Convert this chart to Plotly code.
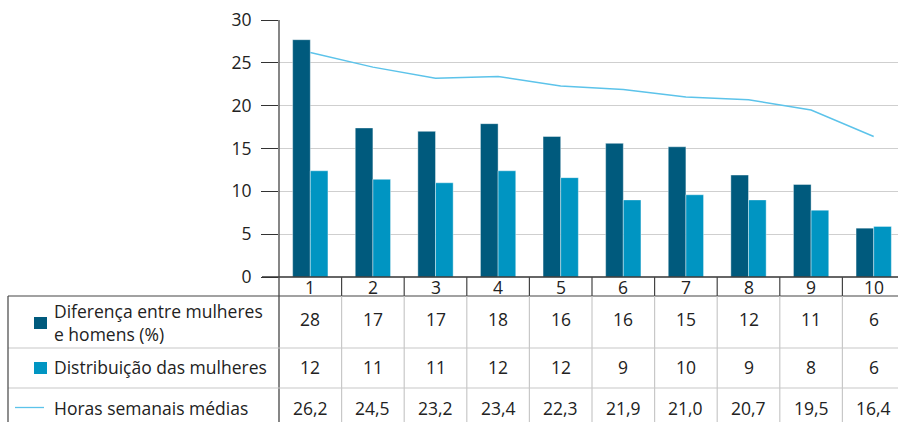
import plotly.graph_objects as go

# Data
categories = ["1", "2", "3", "4", "5", "6", "7", "8", "9", "10"]
diferenca = [27.7, 17.4, 17.0, 17.9, 16.4, 15.6, 15.2, 11.9, 10.8, 5.7]
distribuicao = [12.4, 11.4, 11.0, 12.4, 11.6, 9.0, 9.6, 9.0, 7.8, 5.9]
horas = [26.2, 24.5, 23.2, 23.4, 22.3, 21.9, 21.0, 20.7, 19.5, 16.4]
y_ticks = [0, 5, 10, 15, 20, 25, 30]

row_labels = ["Diferença entre mulheres<br>e homens (%)",
              "Distribuição das mulheres",
              "Horas semanais médias"]

DARK = "#005a7d"
LIGHT = "#0095c2"
LINE = "#5cc3ea"
TEXT = "#222222"
FONT = "Open Sans"
FSIZE = 17.5

W, H = 898, 422
L, R, T, B = 279, 0, 20, 145
PW, PH = W - L - R, H - T - B
x_idx = list(range(len(categories)))


def px_x(px):
    return (px - L) / PW


def px_y(py):
    return (H - B - py) / PH


fig = go.Figure()
fig.add_trace(go.Bar(x=x_idx, y=diferenca, marker=dict(color=DARK, line=dict(color="rgba(255,255,255,0.5)", width=0.8)),
                     name="Diferença entre mulheres e homens (%)"))
fig.add_trace(go.Bar(x=x_idx, y=distribuicao, marker=dict(color=LIGHT, line=dict(color="rgba(255,255,255,0.5)", width=0.8)),
                     name="Distribuição das mulheres"))
fig.add_trace(go.Scatter(x=x_idx, y=horas, mode="lines", line=dict(color=LINE, width=1.5),
                         name="Horas semanais médias"))

# Category width in pixels, with the right edge slightly cut off
cat_w = 62.6
x_max = -0.5 + PW / cat_w

shapes = []
# zero line with tick extension
shapes.append(dict(type="line", xref="paper", yref="paper", x0=px_x(262), x1=px_x(W), y0=px_y(277), y1=px_y(277),
                   line=dict(color="#333333", width=1.3)))
# vertical axis line running down through the table
shapes.append(dict(type="line", xref="paper", yref="paper", x0=px_x(279), x1=px_x(279), y0=px_y(20), y1=px_y(H + 2),
                   line=dict(color="#444444", width=1.3)))
# table: top border and row separators
shapes.append(dict(type="line", xref="paper", yref="paper", x0=px_x(8), x1=px_x(W), y0=px_y(296), y1=px_y(296),
                   line=dict(color="#444444", width=1.2)))
for yy in (348, 388):
    shapes.append(dict(type="line", xref="paper", yref="paper", x0=px_x(8), x1=px_x(W), y0=px_y(yy), y1=px_y(yy),
                       line=dict(color="#c8c8c8", width=1.2)))
# table left border
shapes.append(dict(type="line", xref="paper", yref="paper", x0=px_x(8), x1=px_x(8), y0=px_y(296), y1=px_y(H + 2),
                   line=dict(color="#444444", width=1.2)))
# column separators (dark in the header row, light in the body)
for k in range(1, len(categories)):
    xb = k - 0.5
    shapes.append(dict(type="line", xref="x", yref="paper", x0=xb, x1=xb, y0=px_y(277), y1=px_y(296),
                       line=dict(color="#444444", width=1.2)))
    shapes.append(dict(type="line", xref="x", yref="paper", x0=xb, x1=xb, y0=px_y(296), y1=px_y(H + 2),
                       line=dict(color="#c8c8c8", width=1.2)))
# legend keys
shapes.append(dict(type="rect", xref="paper", yref="paper", x0=px_x(34), x1=px_x(47), y0=px_y(317), y1=px_y(329),
                   fillcolor=DARK, line=dict(width=0)))
shapes.append(dict(type="rect", xref="paper", yref="paper", x0=px_x(34), x1=px_x(47), y0=px_y(362), y1=px_y(374),
                   fillcolor=LIGHT, line=dict(width=0)))
shapes.append(dict(type="line", xref="paper", yref="paper", x0=px_x(15), x1=px_x(44), y0=px_y(407.5), y1=px_y(407.5),
                   line=dict(color=LINE, width=1.3)))

annotations = []
font = dict(family=FONT, size=FSIZE, color=TEXT)
# header row: category numbers
for i, c in enumerate(categories):
    annotations.append(dict(x=i, y=px_y(287), xref="x", yref="paper", text=c, showarrow=False,
                            font=font, xanchor="center", yanchor="middle"))
# row labels
label_y = [322, 367, 407.5]
for lbl, yy in zip(row_labels, label_y):
    annotations.append(dict(x=px_x(52), y=px_y(yy), xref="paper", yref="paper", text=lbl, showarrow=False,
                            font=font, xanchor="left", yanchor="middle", align="left"))
# table values
for i in x_idx:
    annotations.append(dict(x=i, y=px_y(319), xref="x", yref="paper", text=f"{diferenca[i]:.0f}",
                            showarrow=False, font=font, xanchor="center", yanchor="middle"))
    annotations.append(dict(x=i, y=px_y(367), xref="x", yref="paper", text=f"{distribuicao[i]:.0f}",
                            showarrow=False, font=font, xanchor="center", yanchor="middle"))
    annotations.append(dict(x=i, y=px_y(407.5), xref="x", yref="paper",
                            text=f"{horas[i]:.1f}".replace(".", ","),
                            showarrow=False, font=font, xanchor="center", yanchor="middle"))

fig.update_layout(
    width=W, height=H,
    margin=dict(l=L, r=R, t=T, b=B, pad=0),
    paper_bgcolor="white", plot_bgcolor="white",
    barmode="group", bargap=0.436, bargroupgap=0,
    showlegend=False,
    font=dict(family=FONT, size=FSIZE, color=TEXT),
    xaxis=dict(range=[-0.5, x_max], showticklabels=False, showgrid=False, zeroline=False,
               showline=False, ticks=""),
    yaxis=dict(range=[0, 30], tickvals=y_ticks, showgrid=True, gridcolor="#cfcfcf", gridwidth=1.2,
               zeroline=False, showline=False, ticks="outside", ticklen=17, tickcolor="#333333",
               tickwidth=1.2, ticklabelstandoff=6, tickfont=dict(family=FONT, size=FSIZE, color=TEXT)),
    shapes=shapes,
    annotations=annotations,
)

fig.write_html("out.html")
